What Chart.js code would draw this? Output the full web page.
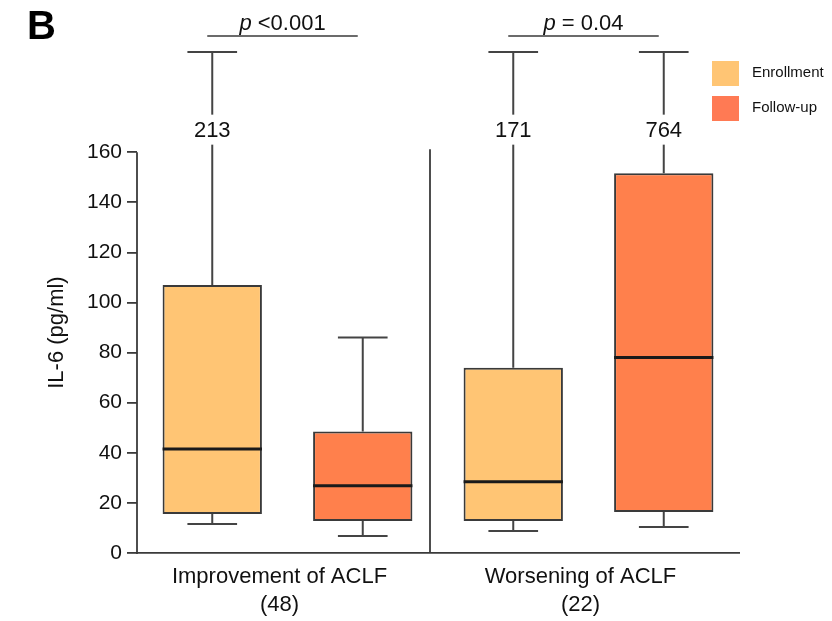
<!DOCTYPE html>
<html>
<head>
<meta charset="utf-8">
<script src="https://cdn.jsdelivr.net/npm/chart.js@4.4.1/dist/chart.umd.min.js"></script>
<style>
html,body{margin:0;padding:0;background:#fff;}
#wrap{position:relative;width:832px;height:621px;}
</style>
</head>
<body>
<div id="wrap"><canvas id="c" width="832" height="621"></canvas></div>
<script>
// ---- data ----
const categories = [['Improvement of ACLF', '(48)'], ['Worsening of ACLF', '(22)']];
const seriesNames = ['Enrollment', 'Follow-up'];
const enrollMin    = [11.6, 8.8];
const enrollQ1     = [15.6, 12.8];
const enrollMedian = [41.5, 28.4];
const enrollQ3     = [107, 74];
const enrollMax    = [213, 171];
const followMin    = [6.8, 10.4];
const followQ1     = [12.8, 16.4];
const followMedian = [26.8, 78];
const followQ3     = [48.5, 151.6];
const followMax    = [86, 764];
const pLabels      = ['<0.001', '= 0.04'];
const yTicks       = [0, 20, 40, 60, 80, 100, 120, 140, 160];
const yTitle       = 'IL-6 (pg/ml)';

// ---- styles ----
const FONT = "'Liberation Sans', Arial, sans-serif";
const colors = ['rgb(255,197,116)', 'rgb(255,128,76)'];
const legendColors = ['rgb(255,197,116)', 'rgb(255,122,84)'];
const lineCol = '#3a3a3a';
const axisTop = yTicks[yTicks.length - 1];
const breakLabelValue = 169;
const titleCenterValue = 88;

const stats = [
  {min: enrollMin, q1: enrollQ1, med: enrollMedian, q3: enrollQ3, max: enrollMax},
  {min: followMin, q1: followQ1, med: followMedian, q3: followQ3, max: followMax}
];

const boxPlugin = {
  id: 'boxPlugin',
  beforeDatasetsDraw(chart) {
    const ctx = chart.ctx, y = chart.scales.y;
    ctx.save();
    ctx.strokeStyle = '#444';
    ctx.lineWidth = 2;
    chart.data.datasets.forEach((ds, di) => {
      const meta = chart.getDatasetMeta(di);
      meta.data.forEach((bar, i) => {
        const s = stats[di];
        const half = bar.width * 0.25;
        const topVal = s.max[i] > axisTop ? y.max : s.max[i];
        const pTop = y.getPixelForValue(topVal);
        const pQ3 = y.getPixelForValue(s.q3[i]);
        const pQ1 = y.getPixelForValue(s.q1[i]);
        const pMin = y.getPixelForValue(s.min[i]);
        ctx.beginPath();
        ctx.moveTo(bar.x, pQ3); ctx.lineTo(bar.x, pTop);
        ctx.moveTo(bar.x - half, pTop); ctx.lineTo(bar.x + half, pTop);
        ctx.moveTo(bar.x, pQ1); ctx.lineTo(bar.x, pMin);
        ctx.moveTo(bar.x - half, pMin); ctx.lineTo(bar.x + half, pMin);
        ctx.stroke();
      });
    });
    ctx.restore();
  },
  afterDatasetsDraw(chart) {
    const ctx = chart.ctx, y = chart.scales.y, x = chart.scales.x, ca = chart.chartArea;
    ctx.save();
    // medians + break labels
    chart.data.datasets.forEach((ds, di) => {
      const meta = chart.getDatasetMeta(di);
      meta.data.forEach((bar, i) => {
        const s = stats[di];
        const pm = y.getPixelForValue(s.med[i]);
        ctx.strokeStyle = '#1a1a1a';
        ctx.lineWidth = 3;
        ctx.beginPath();
        ctx.moveTo(bar.x - bar.width / 2, pm); ctx.lineTo(bar.x + bar.width / 2, pm);
        ctx.stroke();
        if (s.max[i] > axisTop) {
          const py = y.getPixelForValue(breakLabelValue);
          ctx.font = '22px ' + FONT;
          const txt = String(s.max[i]);
          const w = ctx.measureText(txt).width;
          ctx.fillStyle = '#fff';
          ctx.fillRect(bar.x - w / 2 - 4, py - 15, w + 8, 30);
          ctx.fillStyle = '#111';
          ctx.textAlign = 'center';
          ctx.textBaseline = 'middle';
          ctx.fillText(txt, bar.x, py + 1);
        }
      });
    });
    // y axis line (0..160)
    ctx.strokeStyle = lineCol;
    ctx.lineWidth = 1.8;
    ctx.beginPath();
    ctx.moveTo(ca.left, y.getPixelForValue(0) + 1);
    ctx.lineTo(ca.left, y.getPixelForValue(axisTop));
    ctx.stroke();
    // separator
    const sx = x.getPixelForValue(0.5) - 8;
    ctx.beginPath();
    ctx.moveTo(sx, y.getPixelForValue(0));
    ctx.lineTo(sx, y.getPixelForValue(axisTop) - 3);
    ctx.stroke();
    // y title
    ctx.save();
    ctx.translate(57, y.getPixelForValue(titleCenterValue));
    ctx.rotate(-Math.PI / 2);
    ctx.font = '22px ' + FONT;
    ctx.fillStyle = '#111';
    ctx.textAlign = 'center';
    ctx.textBaseline = 'middle';
    ctx.fillText(yTitle, 0, 0);
    ctx.restore();
    // p-value brackets
    const m0 = chart.getDatasetMeta(0), m1 = chart.getDatasetMeta(1);
    categories.forEach((c, i) => {
      const x1 = m0.data[i].x - 5, x2 = m1.data[i].x - 5;
      const ly = ca.top - 16;
      ctx.strokeStyle = lineCol;
      ctx.lineWidth = 1.6;
      ctx.beginPath(); ctx.moveTo(x1, ly); ctx.lineTo(x2, ly); ctx.stroke();
      const rest = ' ' + pLabels[i];
      ctx.font = 'italic 22px ' + FONT;
      const wp = ctx.measureText('p').width;
      ctx.font = '22px ' + FONT;
      const wr = ctx.measureText(rest).width;
      const cx = (x1 + x2) / 2;
      const start = cx - (wp + wr) / 2;
      ctx.fillStyle = '#111';
      ctx.textAlign = 'left';
      ctx.textBaseline = 'alphabetic';
      ctx.font = 'italic 22px ' + FONT;
      ctx.fillText('p', start, ly - 6);
      ctx.font = '22px ' + FONT;
      ctx.fillText(rest, start + wp, ly - 6);
    });
    // legend
    seriesNames.forEach((n, i) => {
      const lx = ca.right - 27, ly = ca.top + 9 + i * 35;
      ctx.fillStyle = legendColors[i];
      ctx.fillRect(lx, ly, 27, 25);
      ctx.fillStyle = '#111';
      ctx.font = '15px ' + FONT;
      ctx.textAlign = 'left';
      ctx.textBaseline = 'middle';
      ctx.fillText(n, ca.right + 13, ly + 12);
    });
    // panel letter
    ctx.font = 'bold 40px ' + FONT;
    ctx.fillStyle = '#000';
    ctx.textAlign = 'left';
    ctx.textBaseline = 'alphabetic';
    ctx.fillText('B', 27, 39);
    ctx.restore();
  }
};

new Chart(document.getElementById('c'), {
  type: 'bar',
  data: {
    labels: categories,
    datasets: stats.map((s, di) => ({
      label: seriesNames[di],
      data: s.q1.map((q, i) => [q, s.q3[i]]),
      backgroundColor: colors[di],
      borderColor: lineCol,
      borderWidth: 2,
      borderSkipped: false,
      categoryPercentage: 1.0,
      barPercentage: 0.66
    }))
  },
  options: {
    responsive: false,
    animation: false,
    layout: {padding: {left: 40, right: 93, top: 52, bottom: 0}},
    plugins: {legend: {display: false}, tooltip: {enabled: false}},
    scales: {
      x: {
        grid: {display: false, drawTicks: false},
        border: {display: true, color: lineCol, width: 1.8},
        ticks: {color: '#111', font: {family: FONT, size: 22, lineHeight: 1.27}, padding: 10, maxRotation: 0, labelOffset: -8},
        afterFit(s) { s.height = 68; }
      },
      y: {
        min: 0, max: 200,
        afterBuildTicks(s) { s.ticks = yTicks.map(v => ({value: v})); },
        grid: {display: true, drawOnChartArea: false, drawTicks: true, tickLength: 10, color: lineCol, lineWidth: 1.8},
        border: {display: false},
        ticks: {color: '#111', font: {family: FONT, size: 21}, padding: 5},
        title: {display: false},
        afterFit(s) { s.width = 97; }
      }
    }
  },
  plugins: [boxPlugin]
});
</script>
</body>
</html>
